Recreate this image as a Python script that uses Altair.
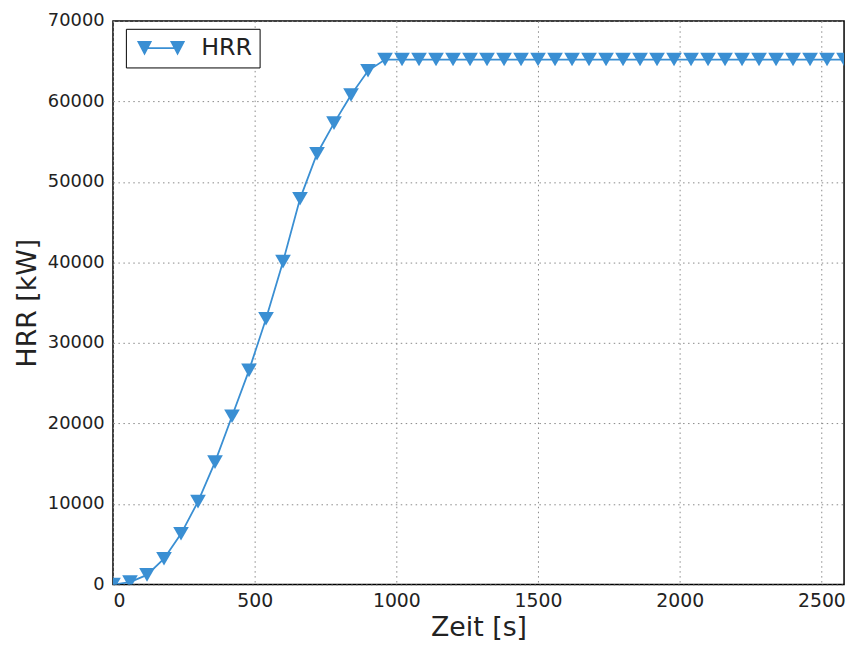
import altair as alt
import pandas as pd

# time [s] and HRR [kW]
times = list(range(0, 2581, 60))
hrr_rise = [0, 300, 1200, 3200, 6300, 10300, 15200, 20900, 26600, 33000,
            40100, 47900, 53500, 57300, 60800, 63800]
plateau = 65200
hrr = hrr_rise + [plateau] * (len(times) - len(hrr_rise))
series = ["HRR"] * len(times)

df = pd.DataFrame({"Zeit": times, "HRR": hrr, "series": series})

BLUE = "#3a8fd3"
FONT = "DejaVu Sans"

legend_path = ("M-1.45,0H1.45 "
               "M-2.0,-0.55L-0.9,-0.55L-1.45,0.5Z "
               "M0.9,-0.55L2.0,-0.55L1.45,0.5Z")

x_enc = alt.X("Zeit:Q", title="Zeit [s]",
              scale=alt.Scale(domain=[0, 2580], nice=False, zero=False),
              axis=alt.Axis(values=[0, 500, 1000, 1500, 2000, 2500], format="d"))
y_enc = alt.Y("HRR:Q", title="HRR [kW]",
              scale=alt.Scale(domain=[0, 70000], nice=False),
              axis=alt.Axis(values=list(range(0, 70001, 10000)), format="d"))

line = alt.Chart(df).mark_line(color=BLUE, strokeWidth=1.8, clip=True).encode(
    x=x_enc, y=y_enc)

points = alt.Chart(df).mark_point(shape="triangle-down", filled=True, size=250,
                                  opacity=1, clip=True).encode(
    x=x_enc, y=y_enc,
    color=alt.Color("series:N", scale=alt.Scale(range=[BLUE]),
                    legend=alt.Legend(orient="none", legendX=13, legendY=8,
                                      title=None, symbolType=legend_path,
                                      symbolSize=529, symbolStrokeWidth=1.6,
                                      symbolStrokeColor=BLUE, symbolFillColor=BLUE,
                                      symbolOffset=16,
                                      labelFontSize=24, labelFont=FONT,
                                      labelColor="#222222", labelOffset=28,
                                      strokeColor="black", fillColor="white",
                                      padding=7, cornerRadius=0)))

chart = (line + points).properties(
    width=738, height=569,
    autosize=alt.AutoSizeParams(type="none"),
    padding={"left": 106, "top": 10, "right": 6, "bottom": 55},
).configure_view(
    stroke="black", strokeWidth=1.5
).configure_axis(
    grid=True, gridColor="#888888", gridDash=[1.5, 3.5], gridWidth=1,
    ticks=False, domain=False,
    labelFont=FONT, labelFontSize=18, labelColor="#222222",
    titleFont=FONT, titleFontSize=27, titleFontWeight="normal", titleColor="#222222",
).configure_axisX(
    labelPadding=7, titlePadding=4, labelFontSize=19
).configure_axisY(
    labelPadding=9, titlePadding=6
)

chart.save("out.html", embed_options={"renderer": "svg", "actions": False})
